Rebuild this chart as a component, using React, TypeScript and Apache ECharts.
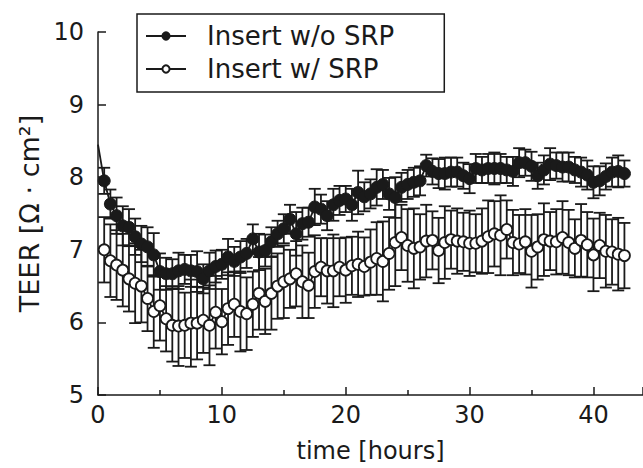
import React, { useEffect, useRef } from "react";
import * as echarts from "echarts";

const times = [
  0.5, 1, 1.5, 2, 2.5, 3, 3.5, 4, 4.5, 5,
  5.5, 6, 6.5, 7, 7.5, 8, 8.5, 9, 9.5, 10,
  10.5, 11, 11.5, 12, 12.5, 13, 13.5, 14, 14.5, 15,
  15.5, 16, 16.5, 17, 17.5, 18, 18.5, 19, 19.5, 20,
  20.5, 21, 21.5, 22, 22.5, 23, 23.5, 24, 24.5, 25,
  25.5, 26, 26.5, 27, 27.5, 28, 28.5, 29, 29.5, 30,
  30.5, 31, 31.5, 32, 32.5, 33, 33.5, 34, 34.5, 35,
  35.5, 36, 36.5, 37, 37.5, 38, 38.5, 39, 39.5, 40,
  40.5, 41, 41.5, 42, 42.5,
];

const noSrpStart = [0, 8.45];

const noSrp = [
  7.95, 7.63, 7.47, 7.33, 7.31, 7.18, 7.08, 7.04, 6.93, 6.7,
  6.67, 6.67, 6.71, 6.73, 6.71, 6.7, 6.6, 6.71, 6.77, 6.8,
  6.9, 6.84, 6.9, 6.95, 7.15, 6.97, 6.99, 7.11, 7.22, 7.29,
  7.42, 7.22, 7.36, 7.38, 7.59, 7.56, 7.47, 7.62, 7.68, 7.7,
  7.62, 7.79, 7.73, 7.77, 7.86, 7.9, 7.77, 7.72, 7.86, 7.9,
  7.93, 7.95, 8.16, 8.08, 8.05, 8.05, 8.07, 8.07, 8.02, 7.98,
  8.12, 8.1, 8.12, 8.12, 8.12, 8.1, 8.08, 8.2, 8.2, 8.15,
  8.02, 8.1, 8.18, 8.16, 8.14, 8.14, 8.1, 8.07, 8.03, 7.93,
  7.95, 8.01, 8.07, 8.08, 8.05,
];

const noSrpErr = [
  0.18, 0.2, 0.25, 0.27, 0.25, 0.25, 0.25, 0.27, 0.3, 0.25,
  0.22, 0.2, 0.25, 0.2, 0.22, 0.28, 0.2, 0.25, 0.22, 0.2,
  0.25, 0.2, 0.22, 0.2, 0.2, 0.25, 0.22, 0.2, 0.18, 0.2,
  0.2, 0.3, 0.22, 0.2, 0.25, 0.2, 0.2, 0.22, 0.2, 0.18,
  0.22, 0.3, 0.2, 0.2, 0.25, 0.2, 0.22, 0.28, 0.2, 0.2,
  0.2, 0.2, 0.15, 0.18, 0.2, 0.22, 0.2, 0.2, 0.18, 0.2,
  0.2, 0.18, 0.2, 0.22, 0.2, 0.18, 0.2, 0.2, 0.18, 0.2,
  0.18, 0.2, 0.22, 0.18, 0.2, 0.2, 0.18, 0.2, 0.2, 0.22,
  0.2, 0.18, 0.2, 0.22, 0.18,
];

const withSrp = [
  7.0, 6.85, 6.79, 6.72, 6.6, 6.54, 6.5, 6.33, 6.15, 6.23,
  6.05, 5.96, 5.95, 5.96, 5.99, 5.99, 6.03, 5.96, 6.14, 6.01,
  6.19, 6.25, 6.15, 6.12, 6.25, 6.4, 6.29, 6.4, 6.5, 6.56,
  6.6, 6.67, 6.56, 6.51, 6.7, 6.76, 6.71, 6.71, 6.76, 6.72,
  6.78, 6.8, 6.77, 6.83, 6.88, 6.84, 6.95, 7.1, 7.17, 7.06,
  7.02, 7.04, 7.12, 7.13, 6.99, 7.1, 7.14, 7.12, 7.11, 7.09,
  7.09, 7.12, 7.18, 7.22, 7.2, 7.28, 7.1, 7.08, 7.11, 6.98,
  7.04, 7.14, 7.12, 7.11, 7.17, 7.1, 7.02, 7.13, 7.07, 6.93,
  7.06, 6.98, 6.97, 6.94, 6.92,
];

const withSrpErr = [
  0.45, 0.5, 0.48, 0.5, 0.45, 0.55, 0.5, 0.45, 0.5, 0.48,
  0.45, 0.5, 0.55, 0.45, 0.6, 0.5, 0.45, 0.55, 0.5, 0.45,
  0.5, 0.45, 0.55, 0.5, 0.45, 0.5, 0.45, 0.5, 0.45, 0.5,
  0.4, 0.45, 0.5, 0.45, 0.5, 0.4, 0.45, 0.5, 0.4, 0.45,
  0.4, 0.45, 0.4, 0.45, 0.5, 0.55, 0.5, 0.6, 0.45, 0.5,
  0.55, 0.45, 0.5, 0.4, 0.45, 0.5, 0.4, 0.45, 0.4, 0.45,
  0.4, 0.45, 0.5, 0.45, 0.55, 0.4, 0.45, 0.4, 0.45, 0.5,
  0.45, 0.5, 0.4, 0.45, 0.5, 0.45, 0.4, 0.5, 0.45, 0.5,
  0.45, 0.5, 0.45, 0.5, 0.45,
];

const NAME_A = "Insert w/o SRP";
const NAME_B = "Insert w/ SRP";
const INK = "#1a1a1a";
const FONT = "DejaVu Sans";

function errRender(params: any, api: any) {
  const x = api.value(0);
  const y = api.value(1);
  const e = api.value(2);
  const top = api.coord([x, y + e]);
  const bot = api.coord([x, y - e]);
  const hw = 6;
  const style = { stroke: INK, lineWidth: 1.8 };
  return {
    type: "group",
    children: [
      { type: "line", shape: { x1: top[0], y1: top[1], x2: bot[0], y2: bot[1] }, style },
      { type: "line", shape: { x1: top[0] - hw, y1: top[1], x2: top[0] + hw, y2: top[1] }, style },
      { type: "line", shape: { x1: bot[0] - hw, y1: bot[1], x2: bot[0] + hw, y2: bot[1] }, style },
    ],
  };
}

export default function App() {
  const ref = useRef<HTMLDivElement>(null);
  useEffect(() => {
    if (!ref.current) return;
    const chart = echarts.init(ref.current, null, { renderer: "svg" });
    const aData: any[] = [
      { value: noSrpStart, symbol: "none" },
      ...times.map((t, i) => [t, noSrp[i]]),
    ];
    const bData = times.map((t, i) => [t, withSrp[i]]);
    const aErr = times.map((t, i) => [t, noSrp[i], noSrpErr[i]]);
    const bErr = times.map((t, i) => [t, withSrp[i], withSrpErr[i]]);
    chart.setOption({
      animation: false,
      backgroundColor: "#ffffff",
      grid: { left: 98, right: -5, top: 32, bottom: 71, containLabel: false },
      legend: {
        data: [NAME_A, NAME_B],
        orient: "vertical",
        left: 137,
        top: 14,
        itemWidth: 40,
        itemHeight: 9,
        itemGap: 7,
        padding: [9, 50, 10, 8],
        borderColor: INK,
        borderWidth: 1.5,
        textStyle: { fontFamily: FONT, fontSize: 26, color: INK, padding: [0, 0, 0, 16] },
      },
      xAxis: {
        type: "value",
        min: 0,
        max: 44,
        interval: 10,
        name: "time [hours]",
        nameLocation: "middle",
        nameGap: 44,
        nameTextStyle: { fontFamily: FONT, fontSize: 24, color: INK },
        axisLine: { show: true, onZero: false, lineStyle: { color: INK, width: 1.5 } },
        axisTick: { show: true, inside: true, length: 8, lineStyle: { color: INK, width: 1.5 } },
        minorTick: { show: true, splitNumber: 2, length: 5, lineStyle: { color: INK, width: 1.5 } },
        axisLabel: { fontFamily: FONT, fontSize: 24, color: INK, margin: 8, showMaxLabel: false },
        splitLine: { show: false },
      },
      yAxis: {
        type: "value",
        min: 5,
        max: 10,
        interval: 1,
        name: "TEER [Ω · cm²]",
        nameLocation: "middle",
        nameGap: 50,
        nameTextStyle: { fontFamily: FONT, fontSize: 27, color: INK },
        axisLine: { show: true, onZero: false, lineStyle: { color: INK, width: 1.5 } },
        axisTick: { show: true, inside: true, length: 8, lineStyle: { color: INK, width: 1.5 } },
        axisLabel: { fontFamily: FONT, fontSize: 24, color: INK, margin: 14 },
        splitLine: { show: false },
      },
      series: [
        {
          type: "custom",
          name: "errB",
          renderItem: errRender,
          data: bErr,
          encode: { x: 0, y: 1 },
          z: 1,
          silent: true,
        },
        {
          type: "line",
          name: NAME_B,
          data: bData,
          symbol: "circle",
          symbolSize: 11,
          showAllSymbol: true,
          lineStyle: { color: INK, width: 1.8 },
          itemStyle: { color: "#ffffff", borderColor: INK, borderWidth: 1.8 },
          z: 2,
        },
        {
          type: "custom",
          name: "errA",
          renderItem: errRender,
          data: aErr,
          encode: { x: 0, y: 1 },
          z: 3,
          silent: true,
        },
        {
          type: "line",
          name: NAME_A,
          data: aData,
          symbol: "circle",
          symbolSize: 12,
          showAllSymbol: true,
          lineStyle: { color: INK, width: 1.8 },
          itemStyle: { color: INK, borderColor: INK, borderWidth: 1 },
          z: 4,
        },
      ],
    });
    return () => chart.dispose();
  }, []);
  return (
    <div
      ref={ref}
      style={{ position: "fixed", left: 0, top: 0, width: 643, height: 468, background: "#fff" }}
    />
  );
}
